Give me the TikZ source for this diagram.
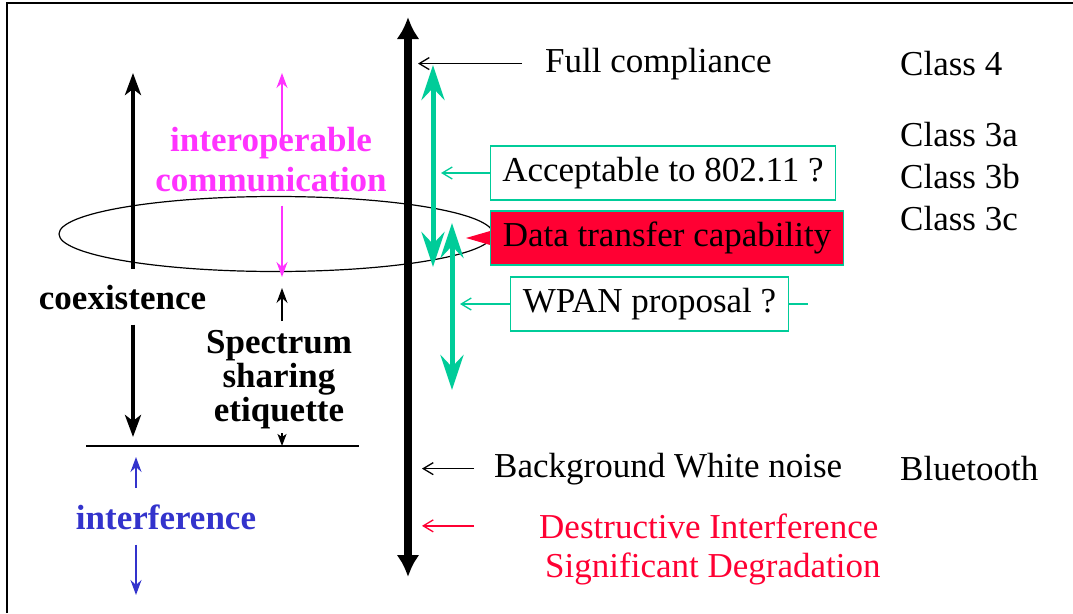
\documentclass[tikz,border=0pt]{standalone}
\usepackage{fontspec}
\setmainfont{Liberation Serif}
\usetikzlibrary{arrows.meta,shapes.geometric}
\tikzset{>=latex}
\definecolor{tealgreen}{RGB}{0,204,153}
\definecolor{alarmred}{RGB}{255,0,51}
\definecolor{pinkviolet}{RGB}{255,51,255}
\definecolor{deepblue}{RGB}{51,51,204}
\tikzset{
  lbl/.style={inner sep=0pt, font=\fontsize{35}{40}\selectfont},
  blbl/.style={inner sep=0pt, align=center, font=\fontsize{35}{40}\selectfont\bfseries},
  gbox/.style={lbl, draw=tealgreen, line width=1.2pt, inner xsep=12pt, minimum height=54pt},
  barb/.style={line width=1.3pt, -{Straight Barb[length=10pt,width=12pt]}},
  thinhead/.style={line width=1.7pt, -{Stealth[length=15pt,width=11pt,inset=5pt]}},
  boldhead/.style={line width=4pt, -{Stealth[length=22pt,width=16pt,inset=6pt]}},
  greenaxis/.style={tealgreen, line width=5pt,
    {Stealth[length=35pt,width=23pt,inset=12pt]}-{Stealth[length=35pt,width=23pt,inset=12pt]}}
}
\begin{document}
\begin{tikzpicture}[x=1pt,y=-1pt]
  \useasboundingbox (0,0) rectangle (1073,613);
  \draw[line width=2pt] (7,613) -- (7,3) -- (1073,3); % 外框

  % 椭圆: 共存区
  \node[draw, ellipse, line width=1.2pt, minimum width=434pt, minimum height=75pt,
        inner sep=0pt] (overlap) at (276,234) {};

  % 主轴
  \coordinate (axtop) at (408,17);
  \coordinate (axbot) at (408,577);
  \draw[line width=8pt, {Latex[length=22pt,width=23pt]}-{Latex[length=22pt,width=23pt]}]
       (axbot) -- (axtop);

  % 绿色区间
  \coordinate (g1top) at (433,65);
  \coordinate (g1bot) at (433,267);
  \coordinate (g2top) at (452,223);
  \coordinate (g2bot) at (452,390);
  \draw[greenaxis] (g1bot) -- (g1top);
  \draw[greenaxis] (g2bot) -- (g2top);

  % 右侧文字
  \node[lbl, anchor=base west] (full) at (545,72) {Full compliance};
  \coordinate (fulltip) at (418,64);
  \draw[barb] ([xshift=-23pt]full.west) -- (full.west -| fulltip);

  \foreach \cname/\cy in {4/75, 3a/146, 3b/188, 3c/230}
    \node[lbl, anchor=base west] (class\cname) at (900,\cy) {Class \cname};

  \node[gbox] (accept) at (663,173) {Acceptable to 802.11 ?};
  \coordinate (acctip) at (441,175);
  \draw[barb, tealgreen] (accept.west) -- (accept.west -| acctip);

  \node[gbox, fill=alarmred] (datacap) at (667,238) {Data transfer capability};
  \coordinate (dtip) at (466,236);
  \fill[alarmred] ([yshift=7pt]datacap.west) -- (datacap.west -| dtip)
                  -- ([yshift=-7pt]datacap.west) -- cycle;

  \node[gbox] (wpan) at (649.5,304) {WPAN proposal ?};
  \coordinate (wpantip) at (460,304);
  \coordinate (stubend) at (808,304);
  \draw[barb, tealgreen] (wpan.west) -- (wpan.west -| wpantip);
  \draw[tealgreen, line width=1.3pt] (wpan.east) -- (wpan.east -| stubend);

  \node[lbl, anchor=base west] (bgnoise) at (494,477) {Background White noise};
  \node[lbl, anchor=base west] (bluetooth) at (900,480) {Bluetooth};
  \coordinate (bgtip) at (422,468);
  \draw[barb] ([xshift=-20pt]bgnoise.west) -- (bgnoise.west -| bgtip);

  \node[lbl, anchor=base west, text=alarmred] (destr) at (539,538) {Destructive Interference};
  \node[lbl, anchor=base west, text=alarmred] (degrad) at (545,577) {Significant Degradation};
  \coordinate (redtip) at (422,528);
  \draw[barb, alarmred] ([xshift=-65pt]destr.west) -- (destr.west -| redtip);

  % 左侧
  \node[blbl, text=pinkviolet] (interop) at (271,160) {interoperable\\communication};
  \coordinate (magtop) at (282,73);
  \coordinate (magbot) at (282,277);
  \draw[thinhead, pinkviolet] ([yshift=-12pt]interop.north -| magtop) -- (magtop);
  \draw[thinhead, pinkviolet] ([yshift=-13pt]interop.south -| magbot) -- (magbot);

  \node[blbl, anchor=base] (coex) at (122.5,309) {coexistence};
  \coordinate (coextop) at (133,73);
  \coordinate (coexbot) at (133,437);
  \draw[boldhead] ([yshift=16pt]coex.north -| coextop) -- (coextop);
  \draw[boldhead] ([yshift=-15pt]coex.south -| coexbot) -- (coexbot);

  \node[blbl, anchor=north, font=\fontsize{35}{34}\selectfont\bfseries] (etiq) at (279,330)
       {Spectrum\\sharing\\etiquette};
  \coordinate (etiqtip) at (282,288);
  \draw[thinhead, line width=1.3pt] ([yshift=9pt]etiq.north -| etiqtip) -- (etiqtip);

  \coordinate (thrleft) at (86,446);
  \coordinate (thrright) at (359,446);
  \coordinate (thrmid) at (282,446);
  \draw[line width=1.3pt] (thrleft) -- (thrright);
  \draw[line width=1.3pt, -{Stealth[length=12pt,width=9pt,inset=3pt]}]
       ([yshift=-4pt]etiq.south -| thrmid) -- (thrmid);

  \node[blbl, anchor=base, text=deepblue] (interf) at (166,529) {interference};
  \coordinate (blutop) at (136,457);
  \coordinate (blubot) at (136,595);
  \draw[thinhead, deepblue] ([yshift=16pt]interf.north -| blutop) -- (blutop);
  \draw[thinhead, deepblue] ([yshift=-15pt]interf.south -| blubot) -- (blubot);
\end{tikzpicture}
\end{document}
